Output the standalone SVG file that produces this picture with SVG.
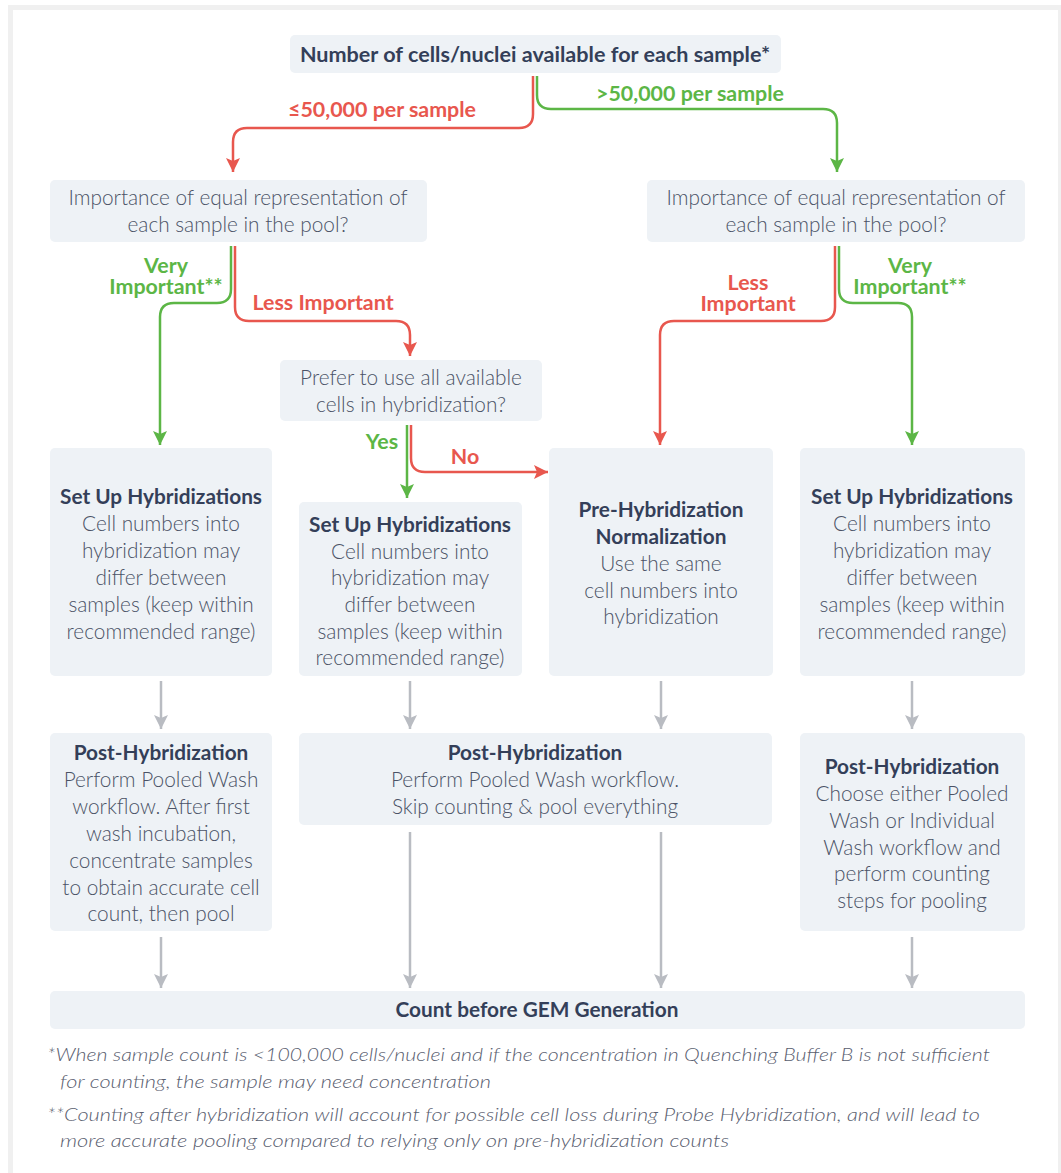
<svg xmlns="http://www.w3.org/2000/svg" width="1061" height="1173" viewBox="0 0 1061 1173">
<defs>
<style>
.box{fill:#eef2f6}
.t{font-family:Lato,"Open Sans","Liberation Sans",sans-serif;font-size:20.8px;fill:#4b5366;text-anchor:middle;font-weight:300}
.b{font-family:Lato,"Open Sans","Liberation Sans",sans-serif;font-size:20.8px;fill:#343f59;text-anchor:middle;font-weight:700}
.bt{font-size:21.6px}
.lr{font-family:Lato,"Open Sans","Liberation Sans",sans-serif;font-size:21.4px;fill:#e8574e;text-anchor:middle;font-weight:700}
.lg{font-family:Lato,"Open Sans","Liberation Sans",sans-serif;font-size:21.4px;fill:#5cb646;text-anchor:middle;font-weight:700}
.fn{font-family:Lato,"Open Sans","Liberation Sans",sans-serif;font-size:18px;fill:#5a6070;font-style:italic;font-weight:300}
.cr{fill:none;stroke:#e8574e;stroke-width:2.5}
.cg{fill:none;stroke:#5cb646;stroke-width:2.5}
.cx{fill:none;stroke:#b9bcc2;stroke-width:2.5}
</style>
<marker id="ar" markerUnits="userSpaceOnUse" markerWidth="16" markerHeight="16" refX="14" refY="7" orient="auto"><path d="M0,0 L14,7 L0,14 L3,7 z" fill="#e8574e"/></marker>
<marker id="ag" markerUnits="userSpaceOnUse" markerWidth="16" markerHeight="16" refX="14" refY="7" orient="auto"><path d="M0,0 L14,7 L0,14 L3,7 z" fill="#5cb646"/></marker>
<marker id="ax" markerUnits="userSpaceOnUse" markerWidth="16" markerHeight="16" refX="14" refY="7" orient="auto"><path d="M0,0 L14,7 L0,14 L3,7 z" fill="#b9bcc2"/></marker>
</defs>
<rect x="0" y="0" width="1061" height="1173" fill="#ffffff"/>
<rect x="10.5" y="7.5" width="1050" height="1200" fill="#ffffff" stroke="#f0f0f0" stroke-width="5"/>

<g id="connectors">
<path class="cr" marker-end="url(#ar)" d="M533,76 V114 Q533,128 519,128 H247 Q233,128 233,142 V172"/>
<path class="cg" marker-end="url(#ag)" d="M537,76 V95 Q537,109 551,109 H823 Q837,109 837,123 V172"/>
<path class="cg" marker-end="url(#ag)" d="M231,246 V289 Q231,303 217,303 H174 Q160,303 160,317 V445"/>
<path class="cr" marker-end="url(#ar)" d="M235,246 V307 Q235,321 249,321 H396 Q410,321 410,335 V356"/>
<path class="cg" marker-end="url(#ag)" d="M407,425 V498"/>
<path class="cr" marker-end="url(#ar)" d="M411,425 V458 Q411,472 425,472 H548"/>
<path class="cr" marker-end="url(#ar)" d="M835,246 V307 Q835,321 821,321 H674 Q660,321 660,335 V445"/>
<path class="cg" marker-end="url(#ag)" d="M839,246 V289 Q839,303 853,303 H898 Q912,303 912,317 V445"/>
<path class="cx" marker-end="url(#ax)" d="M161,681 V729"/>
<path class="cx" marker-end="url(#ax)" d="M410,681 V729"/>
<path class="cx" marker-end="url(#ax)" d="M661,681 V729"/>
<path class="cx" marker-end="url(#ax)" d="M912,681 V729"/>
<path class="cx" marker-end="url(#ax)" d="M161,937 V988"/>
<path class="cx" marker-end="url(#ax)" d="M410,832 V988"/>
<path class="cx" marker-end="url(#ax)" d="M661,832 V988"/>
<path class="cx" marker-end="url(#ax)" d="M912,937 V988"/>
<text class="lr" x="382" y="117">≤50,000 per sample</text>
<text class="lg" x="690" y="101">&gt;50,000 per sample</text>
<text class="lg"><tspan x="166" y="273">Very</tspan><tspan x="166" y="294">Important**</tspan></text>
<text class="lr" x="323" y="310">Less Important</text>
<text class="lr"><tspan x="748" y="290">Less</tspan><tspan x="748" y="311">Important</tspan></text>
<text class="lg"><tspan x="910" y="273">Very</tspan><tspan x="910" y="294">Important**</tspan></text>
<text class="lg" x="382" y="449">Yes</text>
<text class="lr" x="465" y="464">No</text>
</g>

<g id="n-top">
<rect class="box" x="290" y="35" width="491" height="38" rx="5"/>
<text class="b bt" x="535" y="62">Number of cells/nuclei available for each sample*</text>
</g>
<g id="n-q-left">
<rect class="box" x="50" y="180" width="377" height="62" rx="5"/>
<text class="t" x="238" y="205">Importance of equal representation of</text>
<text class="t" x="238" y="232">each sample in the pool?</text>
</g>
<g id="n-q-right">
<rect class="box" x="647" y="180" width="378" height="62" rx="5"/>
<text class="t" x="836" y="205">Importance of equal representation of</text>
<text class="t" x="836" y="232">each sample in the pool?</text>
</g>
<g id="n-q-mid">
<rect class="box" x="280" y="360" width="262" height="61" rx="5"/>
<text class="t" x="411" y="385">Prefer to use all available</text>
<text class="t" x="411" y="412">cells in hybridization?</text>
</g>
<g id="n-setup-a">
<rect class="box" x="50" y="448" width="222" height="228" rx="5"/>
<text class="b" x="161" y="504">Set Up Hybridizations</text>
<text class="t" x="161" y="531">Cell numbers into</text>
<text class="t" x="161" y="558">hybridization may</text>
<text class="t" x="161" y="585">differ between</text>
<text class="t" x="161" y="612">samples (keep within</text>
<text class="t" x="161" y="639">recommended range)</text>
</g>
<g id="n-setup-b">
<rect class="box" x="299" y="502" width="223" height="174" rx="5"/>
<text class="b" x="410" y="532">Set Up Hybridizations</text>
<text class="t" x="410" y="559">Cell numbers into</text>
<text class="t" x="410" y="585">hybridization may</text>
<text class="t" x="410" y="612">differ between</text>
<text class="t" x="410" y="639">samples (keep within</text>
<text class="t" x="410" y="665">recommended range)</text>
</g>
<g id="n-prenorm">
<rect class="box" x="549" y="448" width="224" height="228" rx="5"/>
<text class="b" x="661" y="517">Pre-Hybridization</text>
<text class="b" x="661" y="544">Normalization</text>
<text class="t" x="661" y="571">Use the same</text>
<text class="t" x="661" y="598">cell numbers into</text>
<text class="t" x="661" y="624">hybridization</text>
</g>
<g id="n-setup-d">
<rect class="box" x="800" y="448" width="225" height="228" rx="5"/>
<text class="b" x="912" y="504">Set Up Hybridizations</text>
<text class="t" x="912" y="531">Cell numbers into</text>
<text class="t" x="912" y="558">hybridization may</text>
<text class="t" x="912" y="585">differ between</text>
<text class="t" x="912" y="612">samples (keep within</text>
<text class="t" x="912" y="639">recommended range)</text>
</g>
<g id="n-post-e">
<rect class="box" x="50" y="733" width="222" height="198" rx="5"/>
<text class="b" x="161" y="760">Post-Hybridization</text>
<text class="t" x="161" y="787">Perform Pooled Wash</text>
<text class="t" x="161" y="814">workflow. After first</text>
<text class="t" x="161" y="841">wash incubation,</text>
<text class="t" x="161" y="868">concentrate samples</text>
<text class="t" x="161" y="895">to obtain accurate cell</text>
<text class="t" x="161" y="921">count, then pool</text>
</g>
<g id="n-post-f">
<rect class="box" x="299" y="733" width="473" height="92" rx="5"/>
<text class="b" x="535" y="760">Post-Hybridization</text>
<text class="t" x="535" y="787">Perform Pooled Wash workflow.</text>
<text class="t" x="535" y="814">Skip counting &amp; pool everything</text>
</g>
<g id="n-post-g">
<rect class="box" x="800" y="733" width="225" height="198" rx="5"/>
<text class="b" x="912" y="774">Post-Hybridization</text>
<text class="t" x="912" y="801">Choose either Pooled</text>
<text class="t" x="912" y="828">Wash or Individual</text>
<text class="t" x="912" y="855">Wash workflow and</text>
<text class="t" x="912" y="881">perform counting</text>
<text class="t" x="912" y="908">steps for pooling</text>
</g>
<g id="n-count">
<rect class="box" x="50" y="991" width="975" height="38" rx="5"/>
<text class="b" x="537" y="1017">Count before GEM Generation</text>
</g>
<g id="footnotes">
<text class="fn" x="47" y="1061" textLength="943" lengthAdjust="spacingAndGlyphs">*When sample count is &lt;100,000 cells/nuclei and if the concentration in Quenching Buffer B is not sufficient</text>
<text class="fn" x="60" y="1088" textLength="431" lengthAdjust="spacingAndGlyphs">for counting, the sample may need concentration</text>
<text class="fn" x="47" y="1121" textLength="933" lengthAdjust="spacingAndGlyphs">**Counting after hybridization will account for possible cell loss during Probe Hybridization, and will lead to</text>
<text class="fn" x="60" y="1147" textLength="669" lengthAdjust="spacingAndGlyphs">more accurate pooling compared to relying only on pre-hybridization counts</text>
</g>
</svg>
